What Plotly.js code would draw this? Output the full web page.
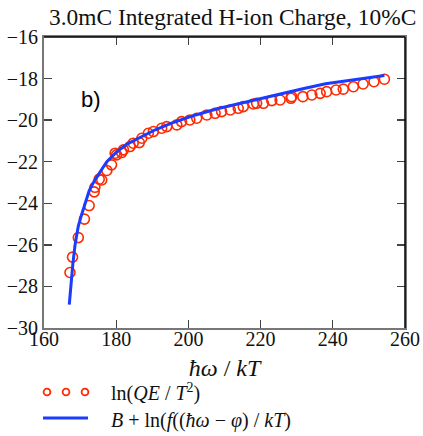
<!DOCTYPE html>
<html>
<head>
<meta charset="utf-8">
<script src="https://cdn.plot.ly/plotly-3.0.1.min.js"></script>
<style>html,body{margin:0;padding:0;background:#fff;}#chart{width:423px;height:436px;}</style>
</head>
<body>
<div id="chart"></div>
<script>
// Measured data: ln(QE/T^2) vs hbar*omega/kT
const dataX = [167.2, 167.9, 169.5, 171.2, 172.5, 173.9, 174.1, 175.3, 176.0, 177.4, 178.7, 179.7, 180.1, 181.5, 182.0, 183.8, 184.7, 186.4, 187.1, 188.9, 190.3, 192.6, 194.0, 196.8, 198.1, 200.4, 202.3, 205.1, 207.4, 209.2, 211.6, 213.8, 215.2, 218.0, 218.9, 220.8, 223.1, 225.4, 228.4, 228.6, 231.7, 234.2, 236.5, 238.3, 240.9, 242.9, 245.7, 248.4, 251.4, 254.3];
const dataY = [-27.33, -26.59, -25.65, -24.76, -24.11, -23.45, -23.23, -22.84, -22.88, -22.42, -22.15, -21.59, -21.67, -21.56, -21.43, -21.27, -21.11, -21.08, -20.87, -20.63, -20.55, -20.39, -20.31, -20.23, -20.07, -19.99, -19.91, -19.75, -19.67, -19.59, -19.51, -19.43, -19.35, -19.22, -19.19, -19.19, -19.06, -19.03, -18.95, -18.87, -18.87, -18.79, -18.71, -18.63, -18.55, -18.51, -18.39, -18.26, -18.15, -18.03];
// Fit curve: B + ln(f((hbar*omega - phi)/kT))
const fitX = [167.0, 167.5, 168.0, 168.6, 169.5, 170.5, 171.4, 172.5, 174.0, 175.5, 177.4, 180.0, 183.0, 187.0, 191.0, 196.0, 202.0, 208.0, 214.0, 220.0, 226.0, 232.0, 238.0, 244.0, 250.0, 254.3];
const fitY = [-28.88, -27.8, -26.9, -26.0, -25.1, -24.5, -24.0, -23.4, -22.9, -22.5, -22.0, -21.55, -21.15, -20.8, -20.45, -20.1, -19.75, -19.45, -19.2, -18.97, -18.7, -18.48, -18.25, -18.1, -17.95, -17.85];
const xTicks = [160, 180, 200, 220, 240, 260];
const yTicks = [-30, -28, -26, -24, -22, -20, -18, -16];
const yTickText = yTicks.map(v => (v < 0 ? '\u2212' + Math.abs(v) : String(v)));
const legendLabels = ['ln(<i>QE</i> / <i>T</i><sup>2</sup>)', '<i>B</i> + ln(<i>f</i>((<i>\u0127\u03c9</i> \u2212 <i>\u03c6</i>) / <i>kT</i>)'];

const serif = '"Liberation Serif", "Times New Roman", serif';
const red = '#ff2a00', blue = '#1a3cff';

const traces = [
  {
    x: dataX, y: dataY, type: 'scatter', mode: 'markers', name: legendLabels[0],
    marker: {symbol: 'circle-open', size: 10, color: red, line: {width: 1.6, color: red}},
    cliponaxis: false
  },
  {
    x: fitX, y: fitY, type: 'scatter', mode: 'lines', name: legendLabels[1],
    line: {color: blue, width: 3}
  }
];

// custom legend (decoration) positions in paper coords
const px2x = p => (p - 44) / 361;
const px2y = p => (328 - p) / 291;
const legendShapes = [];
[47, 66, 85].forEach(cx => {
  legendShapes.push({type: 'circle', xref: 'paper', yref: 'paper',
    x0: px2x(cx - 3.4), x1: px2x(cx + 3.4), y0: px2y(392 + 3.4), y1: px2y(392 - 3.4),
    line: {color: red, width: 1.8}});
});
legendShapes.push({type: 'line', xref: 'paper', yref: 'paper',
  x0: px2x(43), x1: px2x(88), y0: px2y(418), y1: px2y(418), line: {color: blue, width: 3}});

const layout = {
  width: 423, height: 436,
  font: {family: serif, size: 19, color: '#111'},
  margin: {l: 44, r: 18, t: 37, b: 108},
  paper_bgcolor: '#fff', plot_bgcolor: '#fff',
  title: {text: '3.0mC Integrated H-ion Charge, 10%C', font: {family: serif, size: 23.4, color: '#111'},
          xref: 'container', x: 49 / 423, xanchor: 'left', yref: 'container', y: 1 - 17 / 436, yanchor: 'middle'},
  xaxis: {
    range: [160, 260], tickvals: xTicks, ticktext: xTicks.map(String),
    ticks: 'inside', ticklen: 8, tickcolor: '#444', tickwidth: 1.3,
    showline: true, linecolor: '#777', linewidth: 2, mirror: 'ticks',
    showgrid: false, zeroline: false, ticklabelstandoff: -8,
    tickfont: {family: serif, size: 20, color: '#111'},
    title: {text: '<i>\u0127\u03c9</i> / <i>kT</i>', font: {family: serif, size: 24, color: '#111'}, standoff: 10}
  },
  yaxis: {
    range: [-30, -16], tickvals: yTicks, ticktext: yTickText,
    ticks: 'inside', ticklen: 8, tickcolor: '#444', tickwidth: 1.3,
    showline: true, linecolor: '#777', linewidth: 2, mirror: 'ticks',
    showgrid: false, zeroline: false,
    tickfont: {family: serif, size: 20, color: '#111'}
  },
  shapes: [
    {type: 'line', xref: 'paper', yref: 'paper', x0: 0, x1: 1, y0: 1, y1: 1, line: {color: '#000', width: 1.5}},
    {type: 'line', xref: 'paper', yref: 'paper', x0: 1, x1: 1, y0: 0, y1: 1, line: {color: '#000', width: 1.5}}
  ].concat(legendShapes),
  annotations: [
    {text: 'b)', xref: 'paper', yref: 'paper', x: px2x(91), y: px2y(99), xanchor: 'center', yanchor: 'middle', showarrow: false,
     font: {family: 'Liberation Sans', size: 22, color: '#000'}},
    {text: legendLabels[0], xref: 'paper', yref: 'paper', x: px2x(109), y: px2y(392), xanchor: 'left', yanchor: 'middle', showarrow: false,
     font: {family: serif, size: 20, color: '#111'}},
    {text: legendLabels[1], xref: 'paper', yref: 'paper', x: px2x(109), y: px2y(420), xanchor: 'left', yanchor: 'middle', showarrow: false,
     font: {family: serif, size: 20, color: '#111'}}
  ],
  showlegend: false
};

Plotly.newPlot('chart', traces, layout, {displayModeBar: false, staticPlot: true});
</script>
</body>
</html>
